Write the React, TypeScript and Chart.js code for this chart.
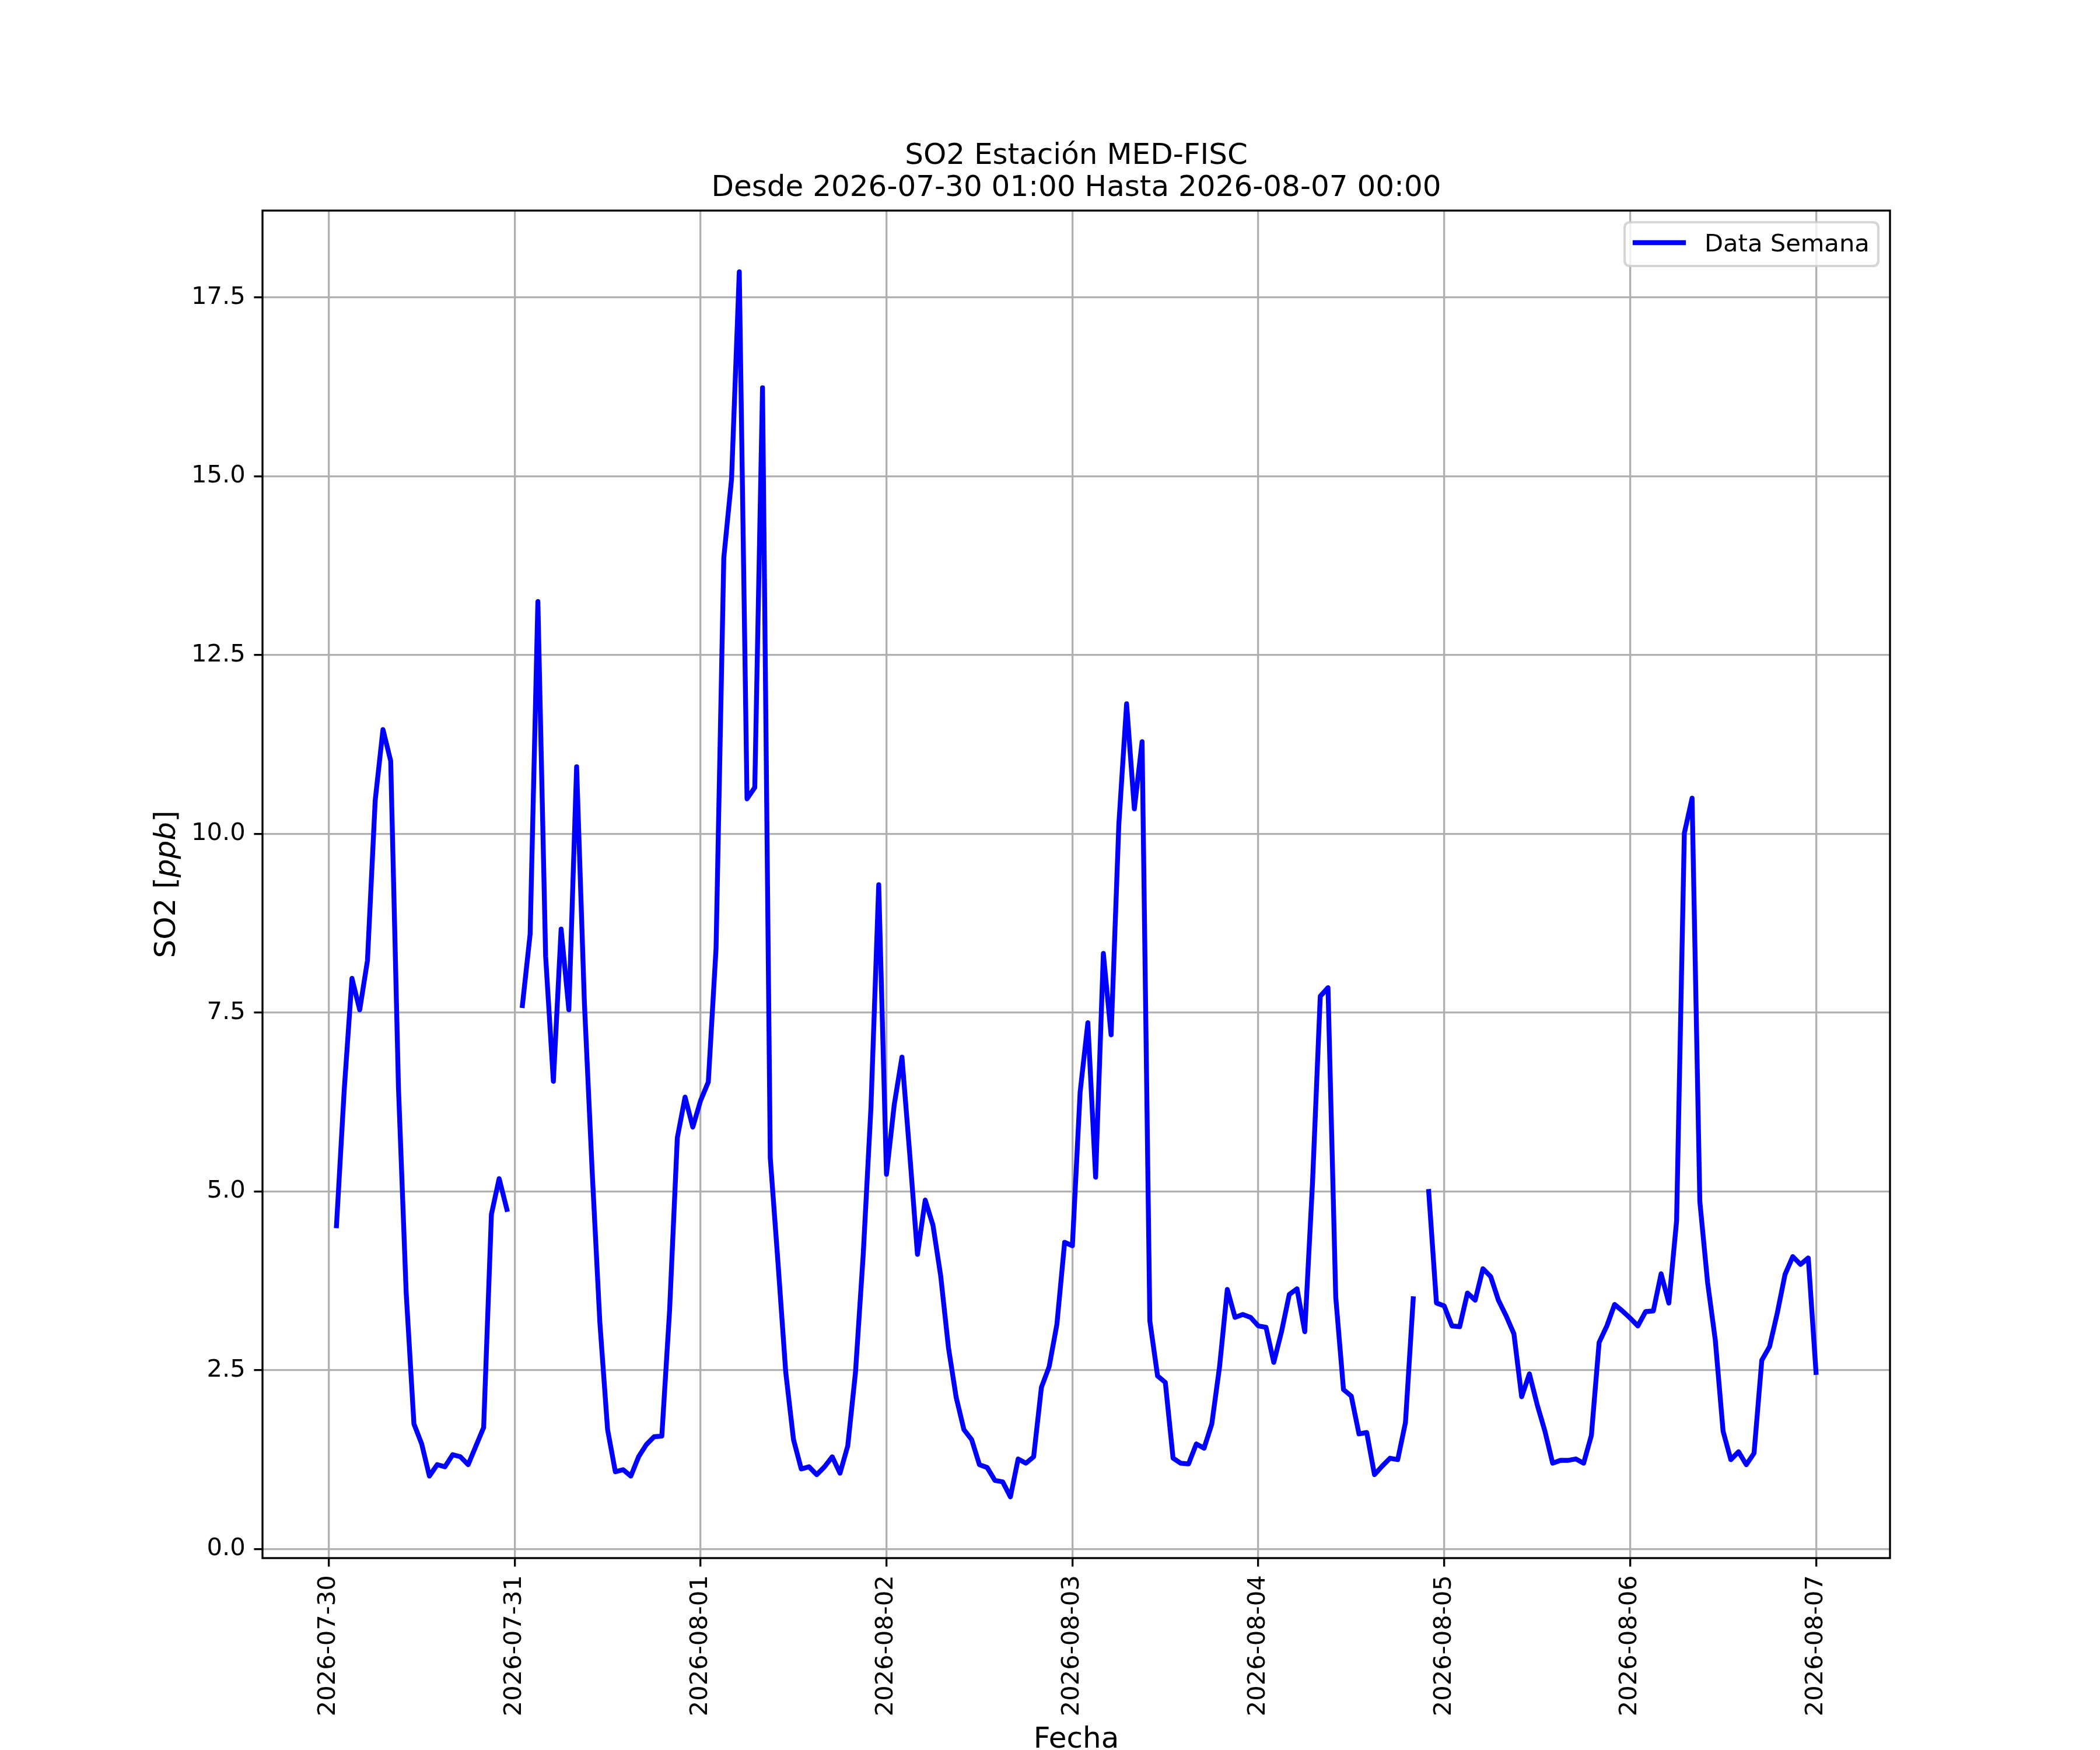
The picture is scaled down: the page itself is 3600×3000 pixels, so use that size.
import React, { useEffect, useRef } from "react";
import { Chart, registerables } from "chart.js";

Chart.register(...registerables);

// Hourly SO2 values [ppb], each array covers 01:00 .. 24:00 (next day 00:00)
const jul30 = [4.52, 6.42, 7.98, 7.54, 8.23, 10.47, 11.46, 11.02, 6.46, 3.58, 1.75, 1.47, 1.02, 1.18, 1.15, 1.32, 1.29, 1.18, 1.44, 1.7, 4.68, 5.18, 4.75, null];
const jul31 = [7.6, 8.6, 13.25, 8.29, 6.54, 8.67, 7.54, 10.94, 7.65, 5.3, 3.17, 1.67, 1.08, 1.11, 1.02, 1.29, 1.46, 1.57, 1.58, 3.33, 5.75, 6.32, 5.9, 6.27];
const aug01 = [6.53, 8.4, 13.86, 14.96, 17.86, 10.49, 10.65, 16.24, 5.47, 4.0, 2.47, 1.53, 1.12, 1.15, 1.04, 1.15, 1.29, 1.06, 1.44, 2.47, 4.12, 6.18, 9.29, 5.24];
const aug02 = [6.21, 6.88, 5.53, 4.12, 4.88, 4.53, 3.82, 2.82, 2.12, 1.67, 1.53, 1.18, 1.14, 0.96, 0.94, 0.73, 1.26, 1.2, 1.29, 2.26, 2.55, 3.14, 4.29, 4.24];
const aug03 = [6.39, 7.36, 5.2, 8.33, 7.19, 10.14, 11.82, 10.35, 11.29, 3.19, 2.42, 2.33, 1.27, 1.2, 1.19, 1.47, 1.41, 1.75, 2.55, 3.63, 3.24, 3.28, 3.24, 3.12];
const aug04 = [3.1, 2.61, 3.04, 3.56, 3.64, 3.04, 5.12, 7.73, 7.85, 3.52, 2.23, 2.14, 1.61, 1.63, 1.04, 1.16, 1.27, 1.25, 1.77, 3.5, null, 5.0, 3.44, 3.4];
const aug05 = [3.12, 3.11, 3.58, 3.48, 3.92, 3.81, 3.48, 3.26, 3.01, 2.13, 2.45, 2.02, 1.65, 1.2, 1.24, 1.24, 1.26, 1.2, 1.59, 2.89, 3.12, 3.42, 3.33, 3.23];
const aug06 = [3.12, 3.32, 3.33, 3.85, 3.44, 4.59, 10.01, 10.5, 4.86, 3.73, 2.92, 1.65, 1.25, 1.36, 1.18, 1.34, 2.64, 2.83, 3.3, 3.84, 4.09, 3.98, 4.07, 2.47];

const dayTickLabels = ["2026-07-30", "2026-07-31", "2026-08-01", "2026-08-02", "2026-08-03", "2026-08-04", "2026-08-05", "2026-08-06", "2026-08-07"];
const yTickValues = [0, 2.5, 5, 7.5, 10, 12.5, 15, 17.5];

const seriesLabel = "Data Semana";
const titleLine1 = "SO2 Estación MED-FISC";
const titleLine2 = "Desde 2026-07-30 01:00 Hasta 2026-08-07 00:00";
const xLabel = "Fecha";

const FONT = "DejaVu Sans";
const PT = 300 / 72;

export default function App() {
  const ref = useRef<HTMLCanvasElement | null>(null);

  useEffect(() => {
    const canvas = ref.current;
    if (!canvas) return;
    const values = [...jul30, ...jul31, ...aug01, ...aug02, ...aug03, ...aug04, ...aug05, ...aug06];
    // hours since 2026-07-30 00:00 (first sample is 01:00)
    const points = values.map((v, i) => ({ x: i + 1, y: v }));
    const xs = points.map((p) => p.x);
    const ys = values.filter((v) => v !== null) as number[];
    const xMin = Math.min(...xs), xMax = Math.max(...xs);
    const yMin = Math.min(...ys), yMax = Math.max(...ys);
    const xm = (xMax - xMin) * 0.05, ym = (yMax - yMin) * 0.05;

    const decor = {
      id: "decor",
      afterDraw(chart: any) {
        const { ctx } = chart;
        const { left, right, top, bottom } = chart.chartArea;
        const cx = (left + right) / 2;
        const cy = (top + bottom) / 2;
        ctx.save();
        // frame (spines)
        ctx.strokeStyle = "#000000";
        ctx.lineWidth = 0.8 * PT;
        ctx.lineJoin = "miter";
        ctx.strokeRect(left, top, right - left, bottom - top);

        ctx.fillStyle = "#000000";
        // title
        ctx.font = `${12 * PT}px "${FONT}"`;
        ctx.textAlign = "center";
        ctx.textBaseline = "alphabetic";
        ctx.fillText(titleLine1, cx, top - 80);
        ctx.fillText(titleLine2, cx, top - 25);
        // x label
        ctx.fillText(xLabel, cx, 2996);
        // y label with italic unit
        const p1 = "SO2 [", p2 = "ppb", p3 = "]";
        const fN = `${12 * PT}px "${FONT}"`;
        const fI = `italic ${12 * PT}px "${FONT}"`;
        ctx.font = fN;
        const w1 = ctx.measureText(p1).width;
        const w3 = ctx.measureText(p3).width;
        ctx.font = fI;
        const w2 = ctx.measureText(p2).width;
        const tw = w1 + w2 + w3;
        ctx.translate(300, cy);
        ctx.rotate(-Math.PI / 2);
        ctx.textAlign = "left";
        let xx = -tw / 2;
        ctx.font = fN;
        ctx.fillText(p1, xx, 0);
        xx += w1;
        ctx.font = fI;
        ctx.fillText(p2, xx, 0);
        xx += w2;
        ctx.font = fN;
        ctx.fillText(p3, xx, 0);
        ctx.setTransform(1, 0, 0, 1, 0, 0);

        // legend
        const ds = chart.data.datasets[0];
        const lx0 = 2785, ly0 = 381, lx1 = 3220, ly1 = 456, r = 10;
        ctx.beginPath();
        ctx.moveTo(lx0 + r, ly0);
        ctx.lineTo(lx1 - r, ly0);
        ctx.quadraticCurveTo(lx1, ly0, lx1, ly0 + r);
        ctx.lineTo(lx1, ly1 - r);
        ctx.quadraticCurveTo(lx1, ly1, lx1 - r, ly1);
        ctx.lineTo(lx0 + r, ly1);
        ctx.quadraticCurveTo(lx0, ly1, lx0, ly1 - r);
        ctx.lineTo(lx0, ly0 + r);
        ctx.quadraticCurveTo(lx0, ly0, lx0 + r, ly0);
        ctx.closePath();
        ctx.fillStyle = "rgba(255,255,255,0.8)";
        ctx.fill();
        ctx.strokeStyle = "rgba(204,204,204,0.8)";
        ctx.lineWidth = 1.0 * PT;
        ctx.stroke();
        ctx.beginPath();
        ctx.strokeStyle = ds.borderColor;
        ctx.lineWidth = 2 * PT;
        ctx.lineCap = "square";
        ctx.moveTo(2803, 416);
        ctx.lineTo(2886, 416);
        ctx.stroke();
        ctx.fillStyle = "#000000";
        ctx.font = `${10 * PT}px "${FONT}"`;
        ctx.textAlign = "left";
        ctx.textBaseline = "alphabetic";
        ctx.fillText(ds.label, 2922, 431);
        ctx.restore();
      },
    };

    const chart = new Chart(canvas, {
      type: "line",
      data: {
        datasets: [
          {
            label: seriesLabel,
            data: points as any,
            borderColor: "#0000ff",
            borderWidth: 2 * PT,
            pointRadius: 0,
            tension: 0,
            spanGaps: false,
            borderJoinStyle: "round",
            borderCapStyle: "square",
            fill: false,
          },
        ],
      },
      options: {
        animation: false,
        responsive: false,
        maintainAspectRatio: false,
        devicePixelRatio: 1,
        events: [],
        layout: { padding: { top: 361, right: 360, left: 0, bottom: 0 } },
        plugins: {
          legend: { display: false },
          title: { display: false },
          tooltip: { enabled: false },
        },
        scales: {
          x: {
            type: "linear",
            min: xMin - xm,
            max: xMax + xm,
            afterFit: (s: any) => {
              s.height = 329;
            },
            afterBuildTicks: (s: any) => {
              s.ticks = dayTickLabels.map((_, i) => ({ value: i * 24 }));
            },
            border: { display: false },
            grid: {
              color: "#b0b0b0",
              lineWidth: 0.8 * PT,
              drawTicks: true,
              tickLength: 3.5 * PT,
              tickColor: "#000000",
              tickWidth: 0.8 * PT,
            },
            ticks: {
              autoSkip: false,
              maxRotation: 90,
              minRotation: 90,
              padding: 3.5 * PT,
              color: "#000000",
              font: { family: FONT, size: 10 * PT },
              callback: (v: any) => dayTickLabels[Math.round(Number(v) / 24)] ?? "",
            },
          },
          y: {
            type: "linear",
            min: yMin - ym,
            max: yMax + ym,
            afterFit: (s: any) => {
              s.width = 450;
            },
            afterBuildTicks: (s: any) => {
              s.ticks = yTickValues.map((v) => ({ value: v }));
            },
            border: { display: false },
            grid: {
              color: "#b0b0b0",
              lineWidth: 0.8 * PT,
              drawTicks: true,
              tickLength: 3.5 * PT,
              tickColor: "#000000",
              tickWidth: 0.8 * PT,
            },
            ticks: {
              autoSkip: false,
              padding: 3.5 * PT,
              color: "#000000",
              font: { family: FONT, size: 10 * PT },
              callback: (v: any) => Number(v).toFixed(1),
            },
          },
        },
      },
      plugins: [decor],
    });
    return () => chart.destroy();
  }, []);

  return (
    <div style={{ position: "absolute", left: 0, top: 0, width: 3600, height: 3000, background: "#ffffff" }}>
      <canvas ref={ref} width={3600} height={3000} style={{ display: "block", width: 3600, height: 3000 }} />
    </div>
  );
}
